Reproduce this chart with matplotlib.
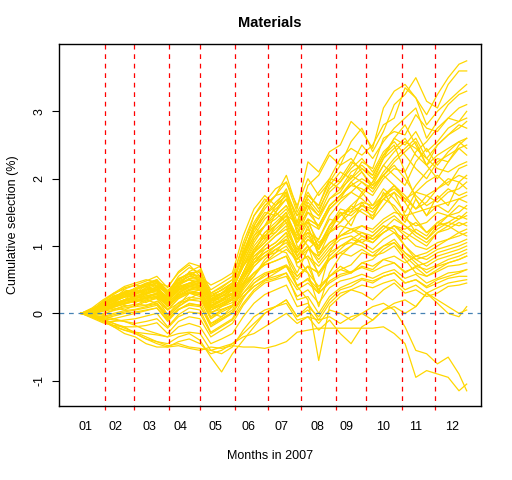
import numpy as np
import matplotlib
matplotlib.use("Agg")
import matplotlib.pyplot as plt

plt.rcParams["font.family"] = ["Liberation Sans", "DejaVu Sans"]

# trading-day index of each recorded point (about once a week)
days = [1, 8, 15, 22, 29, 36, 43, 50, 57, 64, 71, 78, 85, 92, 99, 106, 113, 120, 127,
        134, 141, 148, 155, 162, 169, 176, 183, 190, 197, 204, 211, 218, 225, 232, 239, 246, 251]

# cumulative selection (%) of each stock
leaders = [
    [0, .05, .15, .22, .35, .3, .42, .48, .3, .55, .68, .6, .35, .45, .55, 1.0, 1.35, 1.6, 1.75, 2.05, 1.55, 2.25, 2.1, 2.4, 2.5, 2.85, 2.7, 2.45, 3.05, 3.3, 3.4, 3.2, 2.95, 3.25, 3.5, 3.7, 3.75],
    [0, .08, .2, .3, .4, .45, .5, .46, .4, .6, .72, .55, .42, .5, .6, 1.15, 1.55, 1.75, 1.6, 1.85, 1.35, 1.9, 2.05, 2.35, 2.2, 2.55, 2.75, 2.4, 2.7, 3.1, 3.25, 3.5, 3.15, 3.05, 3.4, 3.6, 3.6],
    [0, .02, .1, .18, .25, .35, .32, .4, .2, .45, .55, .65, .2, .3, .42, .9, 1.2, 1.45, 1.65, 1.8, 1.45, 1.75, 1.6, 2.0, 2.3, 2.45, 2.35, 2.5, 2.8, 2.9, 3.35, 3.2, 2.8, 3.0, 3.15, 3.3, 3.4],
    [0, -.03, .05, .15, .28, .38, .45, .5, .25, .5, .6, .52, .15, .25, .38, .75, 1.1, 1.3, 1.5, 1.7, 1.2, 1.55, 1.8, 2.0, 1.95, 2.2, 2.5, 2.3, 2.55, 2.75, 2.9, 3.05, 2.6, 2.85, 3.1, 3.25, 3.3],
    [0, .06, .12, .25, .3, .28, .38, .44, .28, .42, .5, .45, .1, .2, .3, .8, 1.25, 1.5, 1.45, 1.6, 1.3, 1.7, 1.5, 1.9, 2.1, 2.0, 2.25, 2.15, 2.6, 2.7, 2.65, 2.95, 2.75, 2.7, 2.9, 3.05, 3.1],
    [0, .03, .18, .28, .38, .42, .4, .35, .15, .38, .62, .7, .3, .38, .5, 1.05, 1.45, 1.65, 1.85, 1.95, 1.6, 2.0, 1.75, 1.95, 1.85, 2.1, 2.2, 2.05, 2.35, 2.6, 2.5, 2.7, 2.4, 2.55, 2.75, 2.85, 2.9],
    [0, 0, .08, .12, .2, .22, .3, .36, .1, .3, .4, .38, 0, .1, .2, .6, .95, 1.15, 1.3, 1.5, 1.1, 1.4, 1.3, 1.6, 1.75, 1.95, 2.1, 1.9, 2.2, 2.4, 2.55, 2.45, 2.3, 2.5, 2.65, 2.8, 2.75],
    [0, .04, .14, .2, .32, .36, .44, .4, .32, .52, .58, .48, .25, .35, .45, .85, 1.15, 1.3, 1.4, 1.55, 1.25, 1.65, 1.45, 1.7, 1.8, 2.05, 1.95, 1.8, 2.05, 2.25, 2.4, 2.55, 2.2, 2.35, 2.45, 2.55, 2.6],
    [0, .03, .08, .15, .2, .26, .3, .34, .18, .35, .42, .4, .12, .2, .28, .6, .9, 1.1, 1.25, 1.4, 1.1, 1.4, 1.3, 1.6, 1.75, 1.9, 1.85, 1.75, 2.0, 2.15, 2.1, 2.4, 2.55, 2.75, 2.9, 2.85, 3.0],
    [0, .04, .16, .26, .3, .36, .42, .5, .34, .5, .6, .62, .28, .34, .45, .9, 1.3, 1.55, 1.75, 1.95, 1.5, 1.8, 1.55, 1.85, 2.0, 2.25, 2.15, 2.0, 2.3, 2.45, 2.6, 2.35, 2.2, 2.5, 2.65, 2.75, 2.85],
]

upper = [
    [0, .06, .12, .2, .3, .34, .3, .36, .2, .45, .5, .4, .2, .3, .45, .95, 1.45, 1.7, 1.5, 1.8, 1.2, 1.4, .95, 1.3, 1.55, 1.5, 1.8, 1.95, 2.2, 2.05, 1.9, 2.25, 2.45, 2.2, 2.4, 2.55, 2.45],
    [0, -.02, .04, .08, .05, .12, .2, .15, -.05, .1, .22, .3, 0, -.05, .1, .35, .55, .8, .95, .9, .6, .95, 1.1, 1.4, 1.35, 1.6, 1.75, 1.95, 2.3, 2.6, 2.8, 2.5, 2.2, 2.0, 2.25, 2.45, 2.35],
    [0, .05, .18, .3, .36, .42, .48, .55, .38, .62, .75, .7, .1, .2, .35, .7, 1.05, 1.3, 1.6, 1.75, 1.45, 1.6, 1.25, 1.55, 1.7, 1.95, 1.8, 1.6, 1.85, 1.7, 1.5, 1.8, 1.95, 2.05, 1.9, 2.15, 2.2],
    [0, .02, .1, .14, .2, .25, .22, .3, .1, .25, .35, .42, .1, .18, .3, .6, .9, 1.2, 1.35, 1.5, 1.0, .8, .3, .9, 1.2, 1.4, 1.55, 1.45, 1.7, 1.9, 1.75, 1.55, 1.65, 1.85, 2.0, 1.95, 2.05],
    [0, .04, .08, .16, .25, .3, .38, .35, .25, .4, .45, .5, .25, .3, .35, .7, .9, 1.05, 1.3, 1.45, 1.35, 1.75, 1.6, 1.95, 2.2, 2.3, 2.1, 1.85, 2.05, 1.9, 1.7, 1.55, 1.75, 1.65, 1.8, 1.85, 1.95],
    [0, .07, .15, .1, .2, .32, .28, .4, .3, .5, .6, .55, .3, .4, .5, .85, 1.3, 1.1, 1.5, 1.35, .9, 1.3, .85, 1.2, 1.5, 1.3, 1.65, 1.4, 1.8, 1.55, 1.35, 1.7, 1.45, 1.75, 1.6, 1.95, 1.85],
    [0, .01, .05, .09, .14, .18, .22, .25, .12, .28, .3, .35, .18, .22, .28, .45, .6, .75, .85, .95, .8, .95, .85, 1.05, 1.15, 1.25, 1.3, 1.25, 1.4, 1.5, 1.45, 1.5, 1.55, 1.6, 1.65, 1.7, 1.75],
    [0, .03, .06, .14, .2, .16, .24, .3, .14, .32, .4, .36, .05, .15, .22, .55, .85, 1.0, 1.15, 1.25, .95, 1.15, .95, 1.25, 1.45, 1.6, 1.5, 1.4, 1.6, 1.8, 1.65, 1.9, 2.1, 2.3, 2.25, 2.5, 2.6],
    [0, .05, .12, .2, .28, .32, .3, .4, .22, .38, .44, .48, .2, .25, .35, .7, .95, 1.15, 1.3, 1.45, 1.15, 1.5, 1.4, 1.7, 1.85, 2.0, 2.15, 2.05, 2.35, 2.5, 2.1, 1.7, 1.45, 1.6, 1.5, 1.7, 1.65],
    [0, .03, .1, .18, .24, .28, .34, .38, .24, .42, .52, .5, .2, .28, .4, .75, 1.1, 1.3, 1.45, 1.6, 1.3, 1.6, 1.45, 1.8, 1.95, 2.15, 2.3, 2.1, 2.4, 2.55, 2.35, 2.15, 2.0, 2.25, 2.35, 2.45, 2.5],
    [0, .01, .04, .12, .18, .22, .26, .3, .15, .3, .38, .35, .08, .15, .25, .6, .9, 1.05, 1.2, 1.35, 1.05, 1.35, 1.25, 1.55, 1.7, 1.8, 1.95, 1.85, 2.1, 2.3, 2.45, 2.6, 2.3, 2.15, 2.1, 2.2, 2.25],
    [0, .05, .12, .22, .28, .3, .36, .42, .28, .44, .5, .46, .18, .26, .34, .8, 1.15, 1.4, 1.55, 1.7, 1.3, 1.5, 1.3, 1.6, 1.75, 1.9, 2.0, 1.9, 2.05, 2.2, 2.0, 1.75, 1.6, 1.7, 1.85, 1.75, 1.8],
    [0, .02, .06, .1, .14, .2, .24, .28, .12, .26, .34, .3, .05, .12, .2, .45, .7, .85, 1.0, 1.1, .85, 1.1, 1.0, 1.3, 1.45, 1.55, 1.65, 1.6, 1.75, 1.85, 1.7, 1.8, 1.75, 1.85, 1.95, 2.05, 2.0],
]

middle = [
    [0, .03, .1, .2, .26, .3, .35, .38, .2, .35, .45, .4, .12, .2, .3, .6, .95, 1.15, 1.2, 1.4, 1.05, 1.25, 1.0, 1.3, 1.5, 1.45, 1.6, 1.5, 1.7, 1.8, 1.45, 1.2, 1.1, 1.3, 1.45, 1.5, 1.6],
    [0, -.03, -.02, .05, .12, .1, .18, .22, -.02, .12, .3, .25, -.08, .05, .12, .4, .55, .75, .9, 1.1, .75, .85, .6, .8, .95, 1.1, 1.05, 1.15, 1.3, 1.2, 1.1, 1.25, 1.15, 1.35, 1.45, 1.4, 1.5],
    [0, .05, .14, .25, .32, .36, .4, .46, .3, .5, .58, .55, .25, .35, .45, .9, 1.25, 1.45, 1.6, 1.75, 1.3, 1.35, 1.05, 1.2, 1.3, 1.25, 1.15, 1.05, 1.2, 1.3, 1.2, 1.1, 1.0, 1.2, 1.3, 1.4, 1.45],
    [0, .01, .03, .06, .1, .14, .12, .18, .05, .15, .2, .22, .02, .06, .12, .3, .45, .55, .65, .72, .55, .7, .6, .8, .9, 1.0, 1.1, 1.05, 1.2, 1.3, 1.25, 1.35, 1.2, 1.3, 1.35, 1.45, 1.4],
    [0, .02, .08, .12, .18, .22, .26, .28, .1, .28, .36, .34, .05, .12, .2, .5, .8, 1.0, 1.15, 1.3, .85, .6, .1, .6, .85, 1.0, 1.15, 1.1, 1.25, 1.4, 1.3, 1.15, 1.05, 1.2, 1.25, 1.35, 1.3],
    [0, .04, .1, .18, .24, .26, .3, .32, .18, .34, .4, .38, .15, .2, .28, .55, .8, .9, 1.0, 1.15, .9, 1.1, .95, 1.2, 1.35, 1.5, 1.6, 1.55, 1.75, 1.9, 1.65, 1.4, 1.2, 1.35, 1.3, 1.2, 1.25],
    [0, -.02, .04, .1, .15, .2, .16, .24, .06, .22, .3, .28, 0, .1, .16, .45, .7, .85, .95, 1.05, .8, 1.0, .75, .95, 1.1, 1.15, 1.05, .95, 1.1, 1.2, 1.0, .85, .9, 1.0, 1.1, 1.15, 1.2],
    [0, .03, .08, .15, .2, .22, .28, .34, .2, .36, .42, .45, .18, .25, .3, .55, .75, .85, .9, 1.0, .75, .85, .7, .9, 1.0, 1.05, 1.0, .9, 1.0, 1.05, .9, .8, .85, .95, 1.0, 1.05, 1.1],
    [0, -.04, -.06, -.02, .02, .05, .08, .12, -.08, .06, .12, .1, -.15, -.08, 0, .25, .4, .5, .55, .6, .35, .45, .3, .45, .55, .6, .7, .65, .8, .85, .75, .85, .8, .9, .95, 1.0, 1.05],
    [0, .02, .06, .1, .18, .24, .3, .36, .22, .38, .45, .42, .1, .18, .25, .55, .85, .95, 1.05, 1.2, .95, 1.2, 1.1, 1.45, 1.65, 1.8, 1.7, 1.55, 1.7, 1.6, 1.4, 1.3, 1.35, 1.5, 1.45, 1.6, 1.55],
    [0, .06, .16, .24, .3, .34, .44, .48, .32, .46, .55, .5, .22, .3, .38, .7, 1.0, 1.2, 1.3, 1.45, 1.1, 1.2, .9, 1.05, 1.15, 1.2, 1.3, 1.2, 1.35, 1.45, 1.3, 1.2, 1.1, 1.25, 1.35, 1.3, 1.35],
    [0, .01, .06, .12, .16, .2, .22, .26, .1, .24, .32, .3, .08, .14, .22, .5, .75, .9, 1.0, 1.1, .85, 1.0, .8, 1.0, 1.15, 1.25, 1.2, 1.1, 1.2, 1.3, 1.15, 1.0, .95, 1.05, 1.1, 1.2, 1.15],
]

lower = [
    [0, -.03, -.05, 0, .04, .06, .1, .14, -.06, .1, .2, .18, -.15, -.05, .05, .38, .6, .72, .78, .85, .55, .7, .35, .55, .7, .6, .75, .8, .95, 1.05, .85, .7, .75, .85, .9, .95, 1.0],
    [0, -.05, -.1, -.08, -.04, 0, .04, .08, -.12, .05, .15, .12, -.2, -.1, 0, .25, .4, .5, .6, .7, .5, .7, .6, .85, 1.0, 1.1, 1.2, 1.15, 1.3, 1.25, 1.0, .8, .7, .8, .85, .9, .95],
    [0, -.02, 0, .04, .08, .1, .12, .15, -.02, .16, .24, .22, -.08, .02, .1, .42, .75, .95, 1.05, 1.2, .7, .6, .4, .55, .65, .6, .75, .7, .8, .75, .6, .7, .65, .72, .8, .85, .9],
    [0, -.06, -.12, -.12, -.1, -.08, -.04, 0, -.2, -.02, .08, .05, -.28, -.18, -.08, .22, .45, .58, .62, .7, .4, .52, .35, .55, .65, .72, .9, .85, 1.0, 1.1, .9, .75, .6, .7, .75, .8, .85],
    [0, -.04, -.08, -.04, 0, .02, .05, .08, -.1, .06, .14, .12, -.18, -.08, .02, .3, .5, .6, .65, .7, .42, .5, .3, .48, .58, .62, .68, .62, .7, .75, .62, .68, .55, .62, .7, .72, .75],
    [0, -.07, -.14, -.18, -.2, -.2, -.18, -.14, -.3, -.12, -.05, -.08, -.35, -.25, -.15, .12, .32, .45, .5, .55, .25, .35, .15, .38, .48, .52, .58, .52, .6, .65, .52, .58, .45, .52, .6, .62, .65],
    [0, -.03, -.06, -.1, -.12, -.15, -.12, -.08, -.22, -.05, .02, 0, -.3, -.2, -.1, .15, .35, .48, .52, .6, .2, .25, 0, .25, .38, .45, .52, .48, .55, .6, .45, .5, .38, .45, .52, .55, .55],
    [0, -.05, -.1, -.15, -.22, -.28, -.3, -.32, -.35, -.2, -.15, -.2, -.45, -.38, -.3, -.05, .15, .28, .35, .42, .1, .15, -.1, .15, .3, .35, .42, .38, .45, .5, .35, .42, .3, .38, .45, .48, .5],
    [0, .05, .14, .22, .3, .36, .4, .45, .3, .48, .55, .52, .22, .3, .4, .9, 1.3, 1.6, 1.75, 1.8, 1.2, 1.0, .55, .8, .9, .85, .95, .85, .9, 1.0, .8, .6, .55, .65, .75, .8, .85],
]

laggards = [
    [0, -.04, -.1, -.2, -.3, -.35, -.45, -.5, -.5, -.48, -.52, -.55, -.5, -.52, -.48, -.5, -.5, -.52, -.48, -.42, -.28, -.25, -.22, -.22, -.22, -.22, -.22, -.22, -.2, -.3, -.45, -.95, -.85, -.9, -.95, -1.15, -1.05],
    [0, .02, -.03, -.08, -.12, -.18, -.25, -.3, -.35, -.3, -.28, -.3, -.55, -.5, -.45, -.3, -.15, 0, .1, .2, -.05, .05, -.15, .05, 0, -.1, 0, .1, .15, .05, -.2, -.55, -.6, -.75, -.65, -.9, -1.15],
    [0, -.02, -.08, -.15, -.2, -.3, -.38, -.45, -.5, -.42, -.38, -.45, -.6, -.55, -.45, -.35, -.3, -.2, -.1, 0, -.15, -.05, -.1, -.05, -.15, -.05, 0, -.1, .05, .1, 0, .1, .3, .15, 0, -.05, .1],
    [0, -.03, -.1, -.18, -.25, -.3, -.38, -.42, -.45, -.35, -.3, -.4, -.65, -.87, -.6, -.4, -.2, 0, .1, .2, -.05, .1, -.05, .2, .35, .4, .5, .45, .55, .6, .45, .5, .4, .5, .55, .6, .65],
    [0, 0, .05, .1, .14, .18, .2, .24, .05, .22, .3, .28, -.05, .05, .12, .42, .6, .72, .78, .85, .4, .2, -.7, .1, .25, .35, .3, .2, .35, .45, .3, .35, .25, .3, .4, .42, .45],
    [0, -.05, -.12, -.2, -.25, -.28, -.35, -.42, -.48, -.45, -.5, -.52, -.55, -.6, -.5, -.25, -.05, .05, .1, .15, -.1, -.05, -.25, -.1, -.3, -.45, -.2, -.1, .05, .15, .2, .1, .3, .2, .1, 0, .05],
]

month_ends = [16.3, 35.2, 58.1, 78, 101, 122.2, 143.2, 166.3, 186, 209, 230.6]
month_label_pos = [3.6, 23.3, 45.4, 65.5, 88.2, 109.4, 130.9, 154.2, 173.1, 196.6, 217.9, 241.7]
month_labels = ["01", "02", "03", "04", "05", "06", "07", "08", "09", "10", "11", "12"]

fig = plt.figure(figsize=(5.12, 4.8), dpi=100)
ax = fig.add_axes([0.1152, 0.154, 0.8243, 0.7543])

for group in (leaders, upper, middle, lower, laggards):
    for series in group:
        assert len(series) == len(days)
        ax.plot(days, series, color="#FFD700", lw=0.9)

ax.axhline(0, color="#4682B4", lw=0.9, linestyle=(0, (3.8, 3.8)))
for m in month_ends:
    ax.axvline(m, ymin=-0.012, ymax=1, color="red", lw=0.9,
               linestyle=(0, (3.8, 3.8)), clip_on=False)

ax.set_xlim(-13.5, 260.3)
ax.set_ylim(-1.377, 4.0)

ax.set_xticks(month_label_pos)
ax.set_xticklabels(month_labels, fontsize=9)
ax.tick_params(axis="x", length=0, pad=11)
ax.set_yticks([-1, 0, 1, 2, 3])
ax.set_yticklabels(["-1", "0", "1", "2", "3"], fontsize=9, rotation=90, va="center")
ax.tick_params(axis="y", length=5, pad=5)

for s in ax.spines.values():
    s.set_linewidth(1.0)

ax.set_title("Materials", fontsize=10.5, fontweight="bold", pad=12)
ax.set_xlabel("Months in 2007", fontsize=9, labelpad=12)
ax.set_ylabel("Cumulative selection (%)", fontsize=9, labelpad=10)

fig.savefig("out.png", dpi=100)
